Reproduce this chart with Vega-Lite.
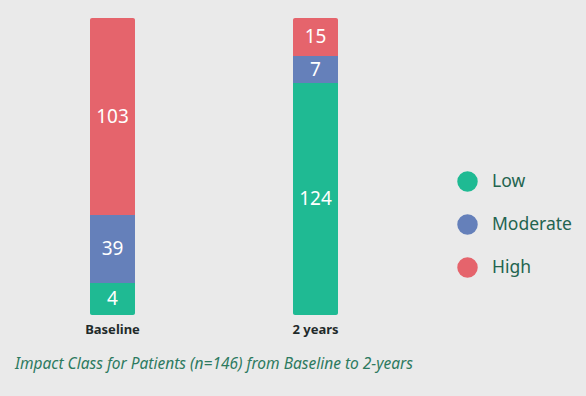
{
  "$schema": "https://vega.github.io/schema/vega-lite/v6.json",
  "width": 406,
  "height": 297,
  "autosize": {"type": "none"},
  "padding": {"left": 11, "top": 18, "right": 169, "bottom": 81},
  "background": "#eaeaea",
  "config": {"view": {"stroke": null}, "font": "Noto Sans"},
  "title": {
    "text": "Impact Class for Patients (n=146) from Baseline to 2-years",
    "orient": "bottom",
    "anchor": "start",
    "fontStyle": "italic",
    "fontWeight": "normal",
    "fontSize": 15.5,
    "color": "#2d7a5f",
    "font": "Noto Sans",
    "offset": 21,
    "dx": 4
  },
  "data": {
    "values": [
      {"time": "Baseline", "class": "Low", "rank": 1, "bar": 15.7, "count": 4},
      {"time": "Baseline", "class": "Moderate", "rank": 2, "bar": 33.4, "count": 39},
      {"time": "Baseline", "class": "High", "rank": 3, "bar": 96.9, "count": 103},
      {"time": "2 years", "class": "Low", "rank": 1, "bar": 114.0, "count": 124},
      {"time": "2 years", "class": "Moderate", "rank": 2, "bar": 13.3, "count": 7},
      {"time": "2 years", "class": "High", "rank": 3, "bar": 18.7, "count": 15}
    ]
  },
  "encoding": {
    "x": {
      "field": "time",
      "type": "nominal",
      "sort": ["Baseline", "2 years"],
      "scale": {"paddingInner": 0, "paddingOuter": 0},
      "axis": {
        "title": null,
        "labelAngle": 0,
        "domain": false,
        "ticks": false,
        "labelFontSize": 13,
        "labelFontWeight": "bold",
        "labelColor": "#1f2a2a",
        "labelPadding": 8
      }
    },
    "y": {
      "field": "bar",
      "type": "quantitative",
      "stack": "zero",
      "scale": {"domain": [0, 146], "nice": false},
      "axis": null
    },
    "order": {"field": "rank", "type": "quantitative"}
  },
  "layer": [
    {
      "mark": {"type": "bar", "width": 45, "cornerRadius": 2},
      "encoding": {
        "color": {
          "field": "class",
          "type": "nominal",
          "scale": {"domain": ["Low", "Moderate", "High"], "range": ["#1fba93", "#6580ba", "#e5646c"]},
          "legend": {
            "title": null,
            "orient": "none",
            "legendX": 446,
            "legendY": 153,
            "symbolType": "circle",
            "symbolSize": 420,
            "symbolStrokeWidth": 0,
            "symbolOpacity": 1,
            "labelFontSize": 17.5,
            "labelColor": "#23644f",
            "labelOffset": 14,
            "rowPadding": 22,
            "labelFont": "Noto Sans"
          }
        }
      }
    },
    {
      "mark": {"type": "text", "color": "white", "fontSize": 19, "baseline": "middle", "align": "center"},
      "encoding": {
        "y": {"field": "bar", "type": "quantitative", "stack": "zero", "bandPosition": 0.5},
        "text": {"field": "count", "type": "quantitative"},
        "detail": {"field": "class", "type": "nominal"}
      }
    }
  ]
}
